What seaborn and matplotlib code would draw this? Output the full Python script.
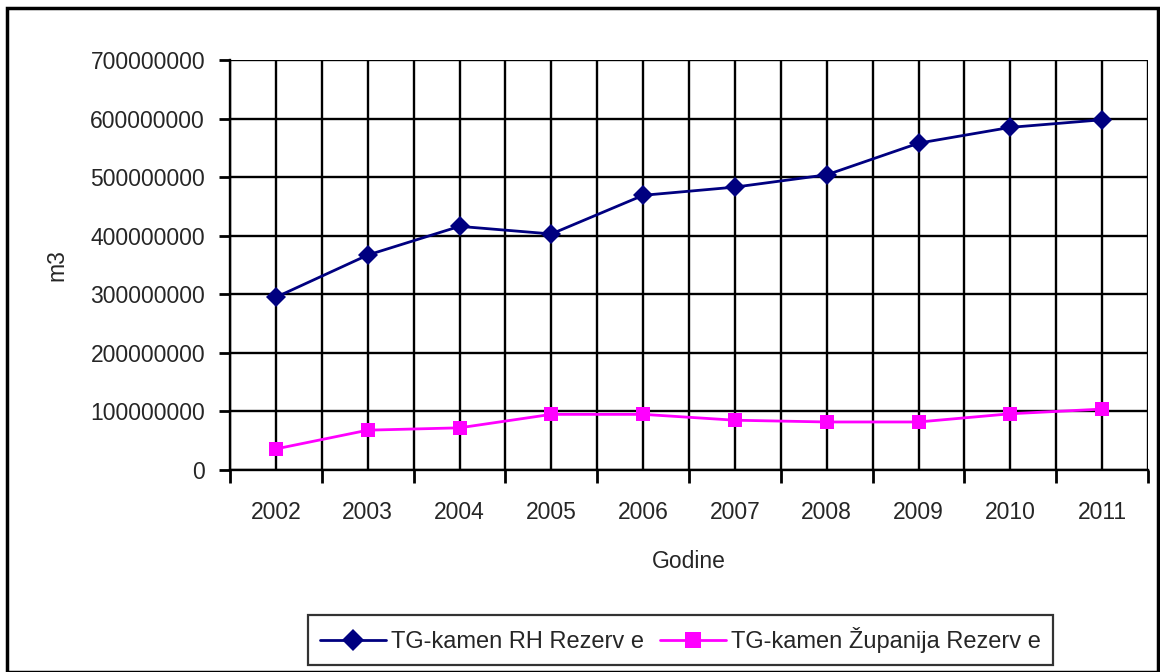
import matplotlib
matplotlib.use("Agg")
import matplotlib.pyplot as plt
import seaborn as sns
import pandas as pd
import numpy as np
from matplotlib.patches import Rectangle

years = [2002, 2003, 2004, 2005, 2006, 2007, 2008, 2009, 2010, 2011]
rh_rezerve = [295e6, 367e6, 416e6, 403e6, 469e6, 483e6, 504e6, 558e6, 585e6, 598e6]
zup_rezerve = [36e6, 68e6, 72e6, 95e6, 95e6, 85e6, 82e6, 82e6, 96e6, 104e6]
series_names = ["TG-kamen RH Rezerv e", "TG-kamen Županija Rezerv e"]
y_ticks = [0, 100000000, 200000000, 300000000, 400000000, 500000000, 600000000, 700000000]

df = pd.DataFrame({
    "Godine": years * 2,
    "m3": rh_rezerve + zup_rezerve,
    "serija": [series_names[0]] * len(years) + [series_names[1]] * len(years),
})

sns.set_theme(style="white")
plt.rcParams["font.family"] = ["Liberation Sans", "DejaVu Sans"]
FS = 16.5

fig = plt.figure(figsize=(11.6, 6.72), dpi=100)
ax = fig.add_axes([0.1983, 0.3006, 0.9897 - 0.1983, 0.9107 - 0.3006])

sns.lineplot(
    data=df, x="Godine", y="m3", hue="serija", style="serija",
    palette={series_names[0]: "#000080", series_names[1]: "#FF00FF"},
    markers={series_names[0]: "D", series_names[1]: "s"},
    dashes=False, markersize=10.5, linewidth=2, markeredgewidth=0,
    ax=ax, legend=True, zorder=5,
)

ax.set_xlim(years[0] - 0.5, years[-1] + 0.5)
ax.set_ylim(0, 700000000)
ax.set_yticks(y_ticks)
ax.set_yticklabels([str(v) for v in y_ticks], fontsize=FS)

bounds = [y - 0.5 for y in years] + [years[-1] + 0.5]
ax.set_xticks(bounds)
ax.set_xticklabels([""] * len(bounds))
ax.set_xticks(years, minor=True)
ax.set_xticklabels([str(y) for y in years], minor=True, fontsize=FS)
ax.tick_params(axis="x", which="major", length=9, width=2, color="black", direction="out", bottom=True)
ax.tick_params(axis="x", which="minor", length=0, pad=22, bottom=True)
ax.tick_params(axis="y", which="major", length=8, width=2, color="black", direction="out", left=True, pad=10)

ax.grid(True, axis="x", which="both", color="black", linewidth=1.7)
ax.grid(True, axis="y", which="major", color="black", linewidth=1.7)
ax.set_axisbelow(True)

for s in ["top", "right"]:
    ax.spines[s].set_visible(False)
ax.spines["left"].set_color("black")
ax.spines["left"].set_linewidth(1.7)
ax.spines["bottom"].set_color("black")
ax.spines["bottom"].set_linewidth(1.7)

ax.set_xlabel("Godine", fontsize=FS, labelpad=19)
ax.set_ylabel("m3", fontsize=FS, labelpad=16)

handles, labels = ax.get_legend_handles_labels()
ax.get_legend().remove()
for h in handles:
    h.set_markersize(11)
leg = fig.legend(handles, labels, loc="center", bbox_to_anchor=(0.5865, 0.0475), ncol=2,
                 fontsize=17, frameon=True, fancybox=False, handlelength=2.8,
                 columnspacing=0.7, handletextpad=0.2, borderpad=0.5, borderaxespad=0)
leg.get_frame().set_edgecolor("black")
leg.get_frame().set_linewidth(1.6)

fig.patches.append(Rectangle((7 / 1160, 0.0), 1151 / 1160, 1 - 8 / 672,
                             transform=fig.transFigure, fill=False,
                             edgecolor="black", linewidth=2.5))

fig.savefig("out.png", dpi=100)
